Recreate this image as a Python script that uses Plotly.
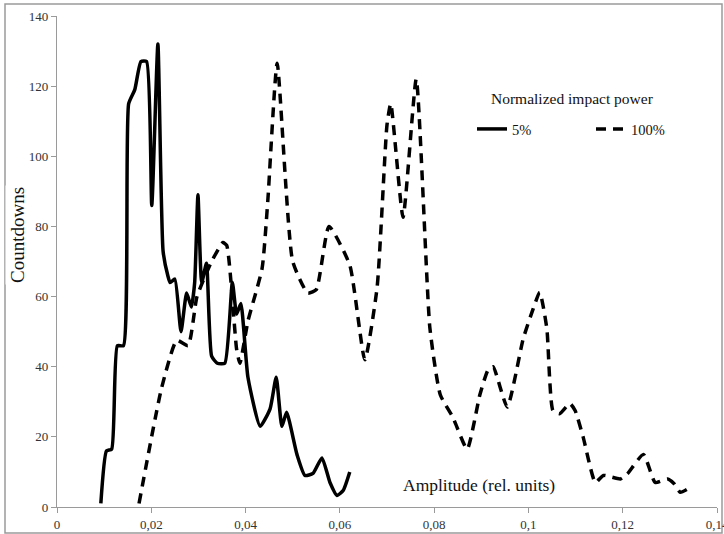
import plotly.graph_objects as go

# 5% normalized impact power (solid)
amp_5 = [0.0093, 0.0105, 0.0116, 0.0128, 0.0141, 0.0152, 0.0165, 0.0178, 0.0190,
         0.0201, 0.0214, 0.0225, 0.0235, 0.0240, 0.0250, 0.0263, 0.0275, 0.0285,
         0.0292, 0.0299, 0.0307, 0.0317, 0.0328, 0.0340, 0.0356, 0.0372, 0.0381,
         0.0390, 0.0405, 0.0431, 0.0452, 0.0465, 0.0477, 0.0487, 0.0509, 0.0526,
         0.0543, 0.0562, 0.0579, 0.0594, 0.0607, 0.0621]
cnt_5 = [1, 16, 16.5, 46, 46, 115, 119, 127, 127,
         86, 132, 73, 66, 64, 65, 50, 61, 57,
         64, 89, 64, 69.5, 43, 41, 41, 64, 55,
         58, 37, 23, 28, 37, 23, 27, 15, 9,
         9.6, 14, 7, 3.3, 4.7, 10]

# 100% normalized impact power (dashed)
amp_100 = [0.0174, 0.0222, 0.0254, 0.0278, 0.0297, 0.0328, 0.0352, 0.0360, 0.0381,
           0.0388, 0.0405, 0.0435, 0.0447, 0.0467, 0.0500, 0.0532, 0.0550, 0.0577,
           0.0621, 0.0653, 0.0679, 0.0700, 0.0708, 0.0734, 0.0762, 0.0791, 0.0813,
           0.0840, 0.0870, 0.0897, 0.0914, 0.0925, 0.0955, 0.0989, 0.1010, 0.1024,
           0.1039, 0.1052, 0.1066, 0.1088, 0.1099, 0.1116, 0.1142, 0.1159, 0.1195,
           0.1210, 0.1244, 0.1269, 0.1295, 0.1308, 0.1322, 0.1340]
cnt_100 = [1, 34, 47.5, 46, 60, 70, 75.4, 74.6, 45,
           41, 53, 68, 87, 126.5, 70, 61, 62, 80,
           69, 42, 62.6, 109, 115, 82.6, 122, 51, 32,
           25.5, 16.5, 32, 39, 40, 28.5, 48, 56.5, 61.2,
           51, 27.5, 26.6, 29.5, 27.5, 20, 7, 9, 8,
           9.5, 15, 7, 8, 6.8, 4.2, 5.3]

x_ticks = [0, 0.02, 0.04, 0.06, 0.08, 0.10, 0.12, 0.14]
x_tick_labels = ["0", "0,02", "0,04", "0,06", "0,08", "0,1", "0,12", "0,14"]
y_ticks = [0, 20, 40, 60, 80, 100, 120, 140]

serif = "Liberation Serif"

fig = go.Figure()
fig.add_trace(go.Scatter(x=amp_5, y=cnt_5, mode="lines", name="5%",
                         line=dict(color="black", width=3.5, shape="spline", smoothing=0.5)))
fig.add_trace(go.Scatter(x=amp_100, y=cnt_100, mode="lines", name="100%",
                         line=dict(color="black", width=3.5, dash="10px,7px",
                                   shape="spline", smoothing=0.5)))

L, R, T, B = 57, 7, 16, 27
W, H = 724, 534
pw, ph = W - L - R, H - T - B

def px(xp):
    return (xp - L) / pw

def py(yp):
    return (H - B - yp) / ph

fig.update_layout(
    width=W, height=H,
    margin=dict(l=L, r=R, t=T, b=B, autoexpand=False),
    paper_bgcolor="white", plot_bgcolor="white",
    font=dict(family=serif, color="#222"),
    xaxis=dict(range=[0, 0.14], tickvals=x_ticks, ticktext=x_tick_labels,
               automargin=False, ticklabeloverflow="allow",
               showgrid=False, zeroline=False, showline=True, linecolor="#9a9a9a",
               linewidth=1.2, ticks="outside", ticklen=5, tickcolor="#9a9a9a",
               tickfont=dict(size=13, family=serif, color="#333")),
    yaxis=dict(range=[0, 140], tickvals=y_ticks, automargin=False,
               ticklabeloverflow="allow",
               showgrid=False, zeroline=False, showline=True, linecolor="#9a9a9a",
               linewidth=1.2, ticks="outside", ticklen=5, tickcolor="#9a9a9a",
               tickfont=dict(size=13, family=serif, color="#333")),
    showlegend=True,
    legend=dict(orientation="h", x=px(472), y=py(113), xanchor="left", yanchor="top",
                bgcolor="rgba(0,0,0,0)", entrywidth=74, entrywidthmode="pixels",
                font=dict(size=14.5, family=serif, color="#111")),
    shapes=[dict(type="rect", xref="paper", yref="paper",
                 x0=px(5), x1=px(722), y0=py(533), y1=py(4),
                 line=dict(color="#9a9a9a", width=1.5), layer="below")],
    annotations=[
        dict(text="Normalized impact power", xref="paper", yref="paper", x=px(572), y=py(98),
             showarrow=False, font=dict(size=15.5, family=serif, color="#111"),
             xanchor="center", yanchor="middle"),
        dict(text="Countdowns", xref="paper", yref="paper", x=px(17), y=py(235),
             textangle=-90, showarrow=False, font=dict(size=19, family=serif, color="#111"),
             bgcolor="white", xanchor="center", yanchor="middle"),
        dict(text="Amplitude (rel. units)", xref="paper", yref="paper", x=px(479), y=py(485),
             showarrow=False, font=dict(size=17.5, family=serif, color="#111"),
             xanchor="center", yanchor="middle"),
    ],
)

fig.write_html("out.html", config={"displayModeBar": False},
               post_script="document.body.style.margin='0px';document.body.style.overflow='hidden';")
